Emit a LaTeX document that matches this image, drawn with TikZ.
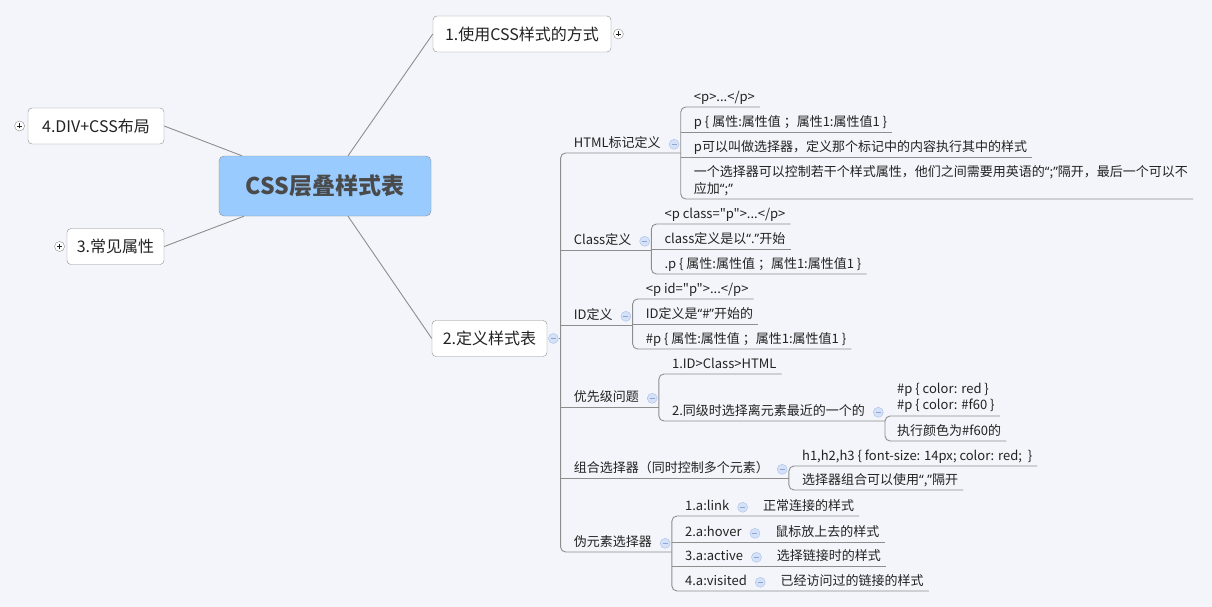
\documentclass[tikz,border=0pt]{standalone}
\usepackage{fontspec}
\setmainfont{Noto Sans CJK SC}[Ligatures=TeXOff]
\newfontfamily\quotefont{Noto Sans}
\newcommand\cnq[1]{{\quotefont“}#1{\quotefont”}}
\usetikzlibrary{positioning}
\definecolor{paper}{HTML}{F3F5FA}
\definecolor{wire}{HTML}{8E8E8E}
\definecolor{rootfill}{HTML}{99CBFF}
\definecolor{rootink}{HTML}{4A4A4A}
\definecolor{ink}{HTML}{222222}
\definecolor{foldfill}{HTML}{D5E1F6}
\definecolor{foldedge}{HTML}{A9BFE8}
\definecolor{foldbar}{HTML}{8DA6D6}

\begin{document}
\begin{tikzpicture}[x=1pt,y=-1pt,
	root/.style={rectangle,rounded corners=5pt,draw=wire,fill=rootfill,text=rootink,font=\fontsize{23}{28}\selectfont\bfseries,minimum width=212pt,minimum height=60pt},
	topic/.style={rectangle,rounded corners=4pt,draw=wire,fill=white,text=ink,font=\fontsize{16}{19}\selectfont,inner sep=0pt,minimum height=36pt},
	leaf/.style={anchor=south west,inner xsep=5pt,inner ysep=2pt,text height=10pt,text depth=3pt,text=ink,font=\fontsize{13}{16}\selectfont},
	note/.style={anchor=south west,inner xsep=5pt,inner ysep=3pt,align=left,text=ink,font=\fontsize{13}{16.5}\selectfont},
	fold/.style={circle,draw=foldedge,fill=foldfill,inner sep=0pt,minimum size=10pt,
		path picture={\draw[foldbar,line width=0.9pt] ([xshift=2.5pt]path picture bounding box.west) -- ([xshift=-2.5pt]path picture bounding box.east);}},
	unfold/.style={circle,draw=wire,fill=white,inner sep=0pt,minimum size=10pt,
		path picture={\draw[ink,line width=0.8pt] ([xshift=2.5pt]path picture bounding box.west) -- ([xshift=-2.5pt]path picture bounding box.east)
			([yshift=2.5pt]path picture bounding box.south) -- ([yshift=-2.5pt]path picture bounding box.north);}},
	branch/.style={draw=wire,line width=0.9pt,rounded corners=5pt}]
	\fill[paper] (0,0) rectangle (1212,607);
	\useasboundingbox (0,0) rectangle (1212,607);

	% centre and first level
	\node[root]								(css)	at (325,186)	{CSS层叠样式表};
	\node[topic,minimum width=178pt]		(use)	at (522,34)		{1.使用CSS样式的方式};
	\node[topic,minimum width=136pt]		(div)	at (96,126)		{4.DIV+CSS布局};
	\node[topic,minimum width=97pt]			(attr)	at (115.5,246.5)	{3.常见属性};
	\node[topic,minimum width=115pt]		(def)	at (489.5,338.5)	{2.定义样式表};
	\node[unfold,right=2pt of use]			(useI)	{};
	\node[unfold,left=3pt of div]			(divI)	{};
	\node[unfold,left=2pt of attr]			(attrI)	{};
	\node[fold,right=1pt of def]			(defI)	{};
	\coordinate[xshift=2pt]					(defS)	at (defI.east);

	% second level
	\node[leaf,xshift=10pt]	(html)		at (defI.east |- 0,153)	{HTML标记定义};
	\node[leaf,xshift=10pt]	(cls)		at (defI.east |- 0,250)	{Class定义};
	\node[leaf,xshift=10pt]	(ids)		at (defI.east |- 0,325)	{ID定义};
	\node[leaf,xshift=10pt]	(prio)		at (defI.east |- 0,407)	{优先级问题};
	\node[leaf,xshift=10pt]	(combo)		at (defI.east |- 0,478)	{组合选择器（同时控制多个元素）};
	\node[leaf,xshift=10pt]	(pseudo)	at (defI.east |- 0,552)	{伪元素选择器};
	\node[fold,right=3pt of html]	(htmlI)		{};
	\node[fold,right=3pt of cls]	(clsI)		{};
	\node[fold,right=3pt of ids]	(idsI)		{};
	\node[fold,right=3pt of prio]	(prioI)		{};
	\node[fold,right=3pt of combo]	(comboI)	{};
	\node[fold,right=3pt of pseudo]	(pseudoI)	{};
	\coordinate[xshift=1.5pt]	(htmlS)		at (htmlI.east |- html.south);
	\coordinate[xshift=1.5pt]	(clsS)		at (clsI.east |- cls.south);
	\coordinate[xshift=1.5pt]	(idsS)		at (idsI.east |- ids.south);
	\coordinate[xshift=1.5pt]	(prioS)		at (prioI.east |- prio.south);
	\coordinate[xshift=1.5pt]	(comboS)	at (comboI.east |- combo.south);
	\coordinate[xshift=1.5pt]	(pseudoS)	at (pseudoI.east |- pseudo.south);

	% HTML
	\node[leaf,xshift=9.5pt]	(tag)		at (htmlI.east |- 0,107)	{<p>...</p>};
	\node[leaf,xshift=9.5pt]	(decl)		at (htmlI.east |- 0,132)	{p \{ 属性:属性值 ；属性1:属性值1 \}};
	\node[leaf,xshift=9.5pt]	(sel)		at (htmlI.east |- 0,157)	{p可以叫做选择器，定义那个标记中的内容执行其中的样式};
	\node[note,xshift=9.5pt]	(semi)		at (htmlI.east |- 0,199)	{一个选择器可以控制若干个样式属性，他们之间需要用英语的\cnq{;}隔开，最后一个可以不\\应加\cnq{;}};
	% Class
	\node[leaf,xshift=9.5pt]	(clsTag)	at (clsI.east |- 0,224)	{<p class="p">...</p>};
	\node[leaf,xshift=9.5pt]	(clsDot)	at (clsI.east |- 0,249)	{class定义是以\cnq{.}开始};
	\node[leaf,xshift=9.5pt]	(clsDecl)	at (clsI.east |- 0,274)	{.p \{ 属性:属性值 ；属性1:属性值1 \}};
	% ID
	\node[leaf,xshift=9.5pt]	(idsTag)	at (idsI.east |- 0,299)	{<p id="p">...</p>};
	\node[leaf,xshift=9.5pt]	(idsHash)	at (idsI.east |- 0,324)	{ID定义是\cnq{\#}开始的};
	\node[leaf,xshift=9.5pt]	(idsDecl)	at (idsI.east |- 0,349)	{\#p \{ 属性:属性值 ；属性1:属性值1 \}};
	% priority
	\node[leaf,xshift=9.5pt]	(order)		at (prioI.east |- 0,374)	{1.ID>Class>HTML};
	\node[leaf,xshift=9.5pt]	(near)		at (prioI.east |- 0,421)	{2.同级时选择离元素最近的一个的};
	\node[fold,right=3pt of near]	(nearI)	{};
	\coordinate[xshift=1.5pt]	(nearS)		at (nearI.east |- near.south);
	\node[note,xshift=8.5pt]	(colors)	at (nearI.east |- 0,416)	{\#p \{ color: red \}\\\#p \{ color: \#f60 \}};
	\node[leaf,xshift=8.5pt]	(result)	at (nearI.east |- 0,441)	{执行颜色为\#f60的};
	% combination
	\node[leaf,xshift=9.5pt]	(group)		at (comboI.east |- 0,466)	{h1,h2,h3 \{ font-size: 14px; color: red;\ \ \}};
	\node[leaf,xshift=9.5pt]	(comma)		at (comboI.east |- 0,490)	{选择器组合可以使用\cnq{,}隔开};
	% pseudo
	\node[leaf,xshift=9.5pt]	(link)		at (pseudoI.east |- 0,516)	{1.a:link};
	\node[leaf,xshift=9.5pt]	(hover)		at (pseudoI.east |- 0,542)	{2.a:hover};
	\node[leaf,xshift=9.5pt]	(active)	at (pseudoI.east |- 0,566)	{3.a:active};
	\node[leaf,xshift=9.5pt]	(visited)	at (pseudoI.east |- 0,591)	{4.a:visited};
	\node[fold,right=3pt of link]		(linkI)		{};
	\node[fold,right=3pt of hover]		(hoverI)	{};
	\node[fold,right=3pt of active]		(activeI)	{};
	\node[fold,right=3pt of visited]	(visitedI)	{};
	\node[leaf,right=10pt of linkI]		(linkC)		{正常连接的样式};
	\node[leaf,right=10pt of hoverI]	(hoverC)	{鼠标放上去的样式};
	\node[leaf,right=10pt of activeI]	(activeC)	{选择链接时的样式};
	\node[leaf,right=10pt of visitedI]	(visitedC)	{已经访问过的链接的样式};

	\draw[branch] ([xshift=23pt]css.north) -- (use.west);
	\draw[branch] ([xshift=23pt]css.south) -- (def.west);
	\draw[branch] ([xshift=-83pt]css.north) -- (div.east);
	\draw[branch] ([xshift=-81pt]css.south) -- (attr.east);
	\draw[branch] (defI.east) -- (defS);
	\draw[branch] (htmlS) -| (defS |- pseudoS) -- (pseudoS);
	\draw[branch] (defS |- clsS) -- (clsS);
	\draw[branch] (defS |- idsS) -- (idsS);
	\draw[branch] (defS |- prioS) -- (prioS);
	\draw[branch] (defS |- comboS) -- (comboS);
	\draw[branch] (tag.south east) -| (htmlS |- semi.south) -- (semi.south east);
	\draw[branch] (htmlS |- decl.south) -- (decl.south east);
	\draw[branch] (htmlS |- sel.south) -- (sel.south east);
	\draw[branch] (clsTag.south east) -| (clsS |- clsDecl.south) -- (clsDecl.south east);
	\draw[branch] (clsS |- clsDot.south) -- (clsDot.south east);
	\draw[branch] (idsTag.south east) -| (idsS |- idsDecl.south) -- (idsDecl.south east);
	\draw[branch] (idsS |- idsHash.south) -- (idsHash.south east);
	\draw[branch] (order.south east) -| (prioS |- nearS) -- (nearS);
	\draw[branch] (colors.south east) -| (nearS |- result.south) -- (result.south east);
	\draw[branch] (group.south east) -| (comboS |- comma.south) -- (comma.south east);
	\draw[branch] (linkC.south east) -| (pseudoS |- visitedC.south) -- (visitedC.south east);
	\draw[branch] (pseudoS |- hoverC.south) -- (hoverC.south east);
	\draw[branch] (pseudoS |- activeC.south) -- (activeC.south east);
\end{tikzpicture}
\end{document}
